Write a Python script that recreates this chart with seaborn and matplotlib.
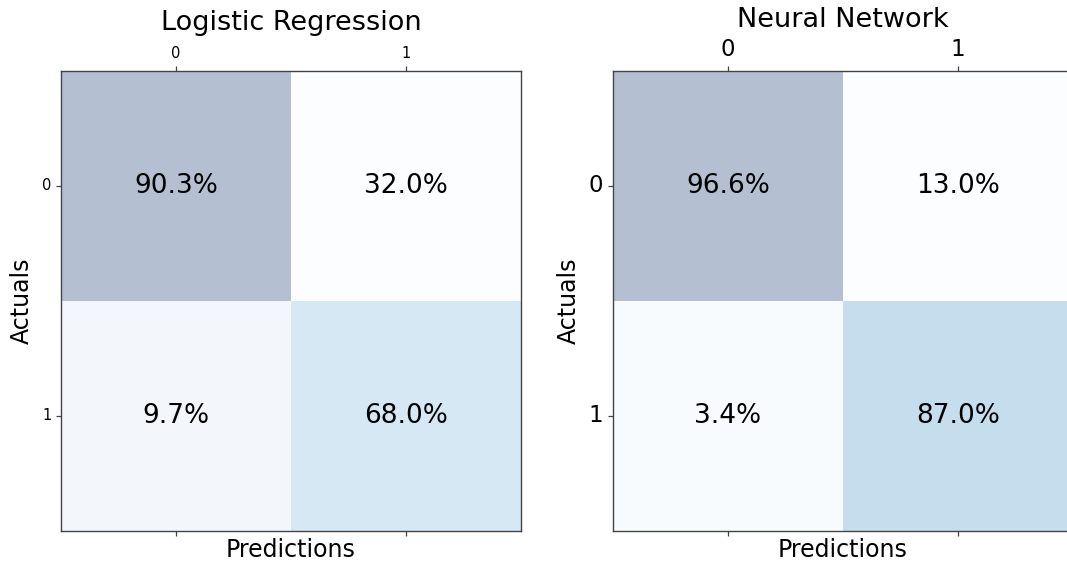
import numpy as np
import matplotlib
matplotlib.use("Agg")
import matplotlib.pyplot as plt
import seaborn as sns

# Confusion counts for each model (rows: class 0 / class 1)
class_labels = ["0", "1"]
model_names = ["Logistic Regression", "Neural Network"]
logreg_counts = np.array([[512, 55],
                          [128, 272]])
nn_counts = np.array([[548, 19],
                      [52, 348]])
tick_sizes = [10.5, 16.5]
title_pads = [12, 8]

fig = plt.figure(figsize=(10.67, 5.63), dpi=100)
W, H = 1067, 563
axes = [fig.add_axes([61 / W, 32 / H, 460 / W, 460 / H]),
        fig.add_axes([613 / W, 32 / H, 460 / W, 460 / H])]

spine_color = "#444444"
for ax, name, counts, tsize, pad in zip(axes, model_names,
                                        [logreg_counts, nn_counts],
                                        tick_sizes, title_pads):
    rates = counts / counts.sum(axis=1, keepdims=True)
    # percentage text placed at (x=i, y=j)
    annot = np.array([[f"{rates[j, i] * 100:.1f}%" for j in range(2)]
                      for i in range(2)])
    sns.heatmap(counts, cmap="Blues", alpha=0.3, cbar=False,
                annot=annot, fmt="", annot_kws={"size": 19, "color": "black"},
                xticklabels=class_labels, yticklabels=class_labels, ax=ax)
    for sp in ax.spines.values():
        sp.set_visible(True)
        sp.set_linewidth(1.0)
        sp.set_color(spine_color)
    ax.tick_params(axis="x", top=True, bottom=True, labeltop=True,
                   labelbottom=False, labelsize=tsize, rotation=0,
                   length=3.5, width=0.9, color=spine_color)
    ax.tick_params(axis="y", left=True, labelsize=tsize, rotation=0,
                   length=3.5, width=0.9, color=spine_color)
    ax.xaxis.set_label_position("bottom")
    ax.set_xlabel("Predictions", fontsize=17, labelpad=1.5)
    ax.set_ylabel("Actuals", fontsize=17, labelpad=6)
    ax.set_title(name, fontsize=19.5, pad=pad)

fig.savefig("out.png", dpi=100)
